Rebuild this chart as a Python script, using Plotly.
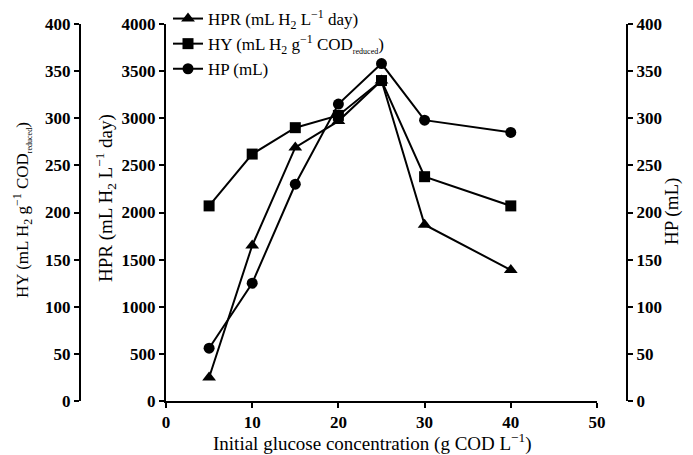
import plotly.graph_objects as go

glucose = [5, 10, 15, 20, 25, 30, 40]
hpr = [250, 1650, 2690, 2970, 3400, 1870, 1390]
hy = [207, 262, 290, 303, 340, 238, 207]
hp = [56, 125, 230, 315, 358, 298, 285]
hy_ticks = [0, 50, 100, 150, 200, 250, 300, 350, 400]
hpr_ticks = [0, 500, 1000, 1500, 2000, 2500, 3000, 3500, 4000]
x_ticks = [0, 10, 20, 30, 40, 50]

FONT = "Liberation Serif"
tickfont = dict(family=FONT, size=17, color="black")
line = dict(color="black", width=2)
RED = '<span style="font-size:8px">reduced</span>'

fig = go.Figure()
fig.add_trace(go.Scatter(x=glucose, y=hpr, yaxis="y2", mode="lines+markers",
                         name="HPR (mL H<sub>2</sub> L<sup>−1</sup> day)",
                         line=line, marker=dict(symbol="triangle-up", size=12, color="black")))
fig.add_trace(go.Scatter(x=glucose, y=hy, yaxis="y", mode="lines+markers",
                         name="HY (mL H<sub>2</sub> g<sup>−1</sup> COD<sub>" + RED + "</sub>)",
                         line=line, marker=dict(symbol="square", size=11, color="black")))
fig.add_trace(go.Scatter(x=glucose, y=hp, yaxis="y3", mode="lines+markers",
                         name="HP (mL)",
                         line=line, marker=dict(symbol="circle", size=11, color="black")))

ax_common = dict(showline=True, linecolor="black", linewidth=2, ticks="outside",
                 ticklen=5, tickwidth=2, tickcolor="black", showgrid=False,
                 zeroline=False, tickfont=tickfont, tickmode="array")

def bold(vals):
    return ["<b>%d</b>" % v for v in vals]

W, H = 693, 455
ml, mr, mt, mb = 80, 66, 24, 54
pw = W - ml - mr
ph = H - mt - mb
x0 = (166 - ml) / pw
x1 = (597 - ml) / pw

def px(p):
    return (p - ml) / pw

def py(p):
    return 1 - (p - mt) / ph

fig.update_layout(
    width=W, height=H,
    margin=dict(l=ml, r=mr, t=mt, b=mb, autoexpand=False),
    plot_bgcolor="white", paper_bgcolor="white",
    font=dict(family=FONT, size=17, color="black"),
    xaxis=dict(domain=[x0, x1], range=[0, 50], anchor="y2",
               tickvals=x_ticks, ticktext=bold(x_ticks), **ax_common),
    yaxis=dict(range=[0, 400], anchor="free", position=0, side="left",
               tickvals=hy_ticks, ticktext=bold(hy_ticks), **ax_common),
    yaxis2=dict(range=[0, 4000], overlaying="y", anchor="x", side="left",
                tickvals=hpr_ticks, ticktext=bold(hpr_ticks), **ax_common),
    yaxis3=dict(range=[0, 400], overlaying="y", anchor="free", position=1, side="right",
                tickvals=hy_ticks, ticktext=bold(hy_ticks), **ax_common),
    showlegend=True,
    legend=dict(x=px(168), y=py(1), xanchor="left", yanchor="top",
                bgcolor="rgba(0,0,0,0)", font=dict(family=FONT, size=17, color="black"),
                itemwidth=30, tracegroupgap=0),
)

annots = [
    dict(text="Initial glucose concentration (g COD L<sup>−1</sup>)", x=px(372), y=py(442), textangle=0, size=19),
    dict(text="HY (mL H<sub>2</sub> g<sup>−1</sup> COD<sub>" + RED + "</sub>)", x=px(22), y=py(210), textangle=-90, size=17),
    dict(text="HPR (mL H<sub>2</sub> L<sup>−1</sup> day)", x=px(105), y=py(198), textangle=-90, size=19),
    dict(text="HP (mL)", x=px(672), y=py(212), textangle=-90, size=19),
]
for a in annots:
    size = a.pop("size")
    fig.add_annotation(xref="paper", yref="paper", showarrow=False,
                       xanchor="center", yanchor="middle",
                       font=dict(family=FONT, size=size, color="black"), **a)

fig.write_html("out.html", config={"displayModeBar": False},
               post_script="document.body.style.margin='0';")
